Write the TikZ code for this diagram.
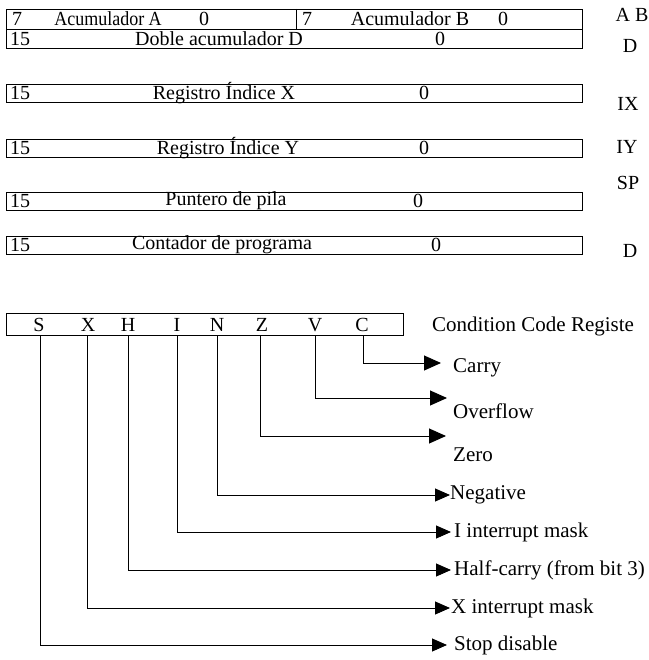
\documentclass[tikz,border=0pt]{standalone}
\usepackage{fontspec}
\setmainfont{Liberation Serif}
\usetikzlibrary{arrows.meta}

\tikzset{
  regbox/.style={draw, line width=0.9pt, inner sep=0pt},
  regtxt/.style={font=\fontsize{20}{22}\selectfont, inner sep=0pt},
  sidetxt/.style={font=\fontsize{20}{22}\selectfont, inner sep=0pt},
  flagtxt/.style={font=\fontsize{21}{23}\selectfont, inner sep=0pt, anchor=west},
  flagline/.style={line width=0.9pt, -{Triangle[length=15pt,width=13pt]}},
  flaglinebig/.style={line width=0.9pt, -{Triangle[length=17pt,width=15pt]}},
}

\begin{document}
\begin{tikzpicture}[x=1pt,y=-1pt]
\useasboundingbox (0,0) rectangle (648,660);

% ---- Accumulators A, B and D ----
\node[regbox, minimum width=576pt, minimum height=20pt] (ab) at (294,19) {};
\node[regbox, minimum width=576pt, minimum height=19pt] (dd) at (294,38.5) {};
\draw[line width=0.9pt] (296,9) coordinate (divtop) -- (296,29) coordinate (divbot);
\node[regtxt, anchor=west] (a7) at (12,19) {7};
\node[regtxt] (aname) at (108,19) {\scalebox{0.9}[1]{Acumulador A}};
\node[regtxt] (a0) at (204,19) {0};
\node[regtxt, anchor=west] (b7) at (302,19) {7};
\node[regtxt] (bname) at (410,19) {Acumulador B};
\node[regtxt] (b0) at (503,19) {0};
\node[regtxt, anchor=west] (d15) at (10,39) {15};
\node[regtxt] (dname) at (219,39) {Doble acumulador D};
\node[regtxt] (d0) at (440,39) {0};
\node[sidetxt] (labab) at (632,15) {A B};
\node[sidetxt] (labd) at (630,46) {D};

% ---- Index registers, stack pointer, program counter ----
\node[regbox, minimum width=576pt, minimum height=18pt] (ix) at (294,93) {};
\node[regtxt, anchor=west] (ix15) at (10,93) {15};
\node[regtxt] (ixname) at (224,93) {Registro Índice X};
\node[regtxt] (ix0) at (424,93) {0};
\node[sidetxt] (labix) at (628,104) {IX};

\node[regbox, minimum width=576pt, minimum height=18pt] (iy) at (294,148) {};
\node[regtxt, anchor=west] (iy15) at (10,148) {15};
\node[regtxt] (iyname) at (228,148) {Registro Índice Y};
\node[regtxt] (iy0) at (424,148) {0};
\node[sidetxt] (labiy) at (627,147) {IY};

\node[regbox, minimum width=576pt, minimum height=18pt] (sp) at (294,201) {};
\node[regtxt, anchor=west] (sp15) at (10,201) {15};
\node[regtxt] (spname) at (226,201) {Puntero de pila};
\node[regtxt] (sp0) at (418,201) {0};
\node[sidetxt] (labsp) at (628,183) {SP};

\node[regbox, minimum width=576pt, minimum height=18pt] (pc) at (294,245) {};
\node[regtxt, anchor=west] (pc15) at (10,245) {15};
\node[regtxt] (pcname) at (222,245) {Contador de programa};
\node[regtxt] (pc0) at (436,245) {0};
\node[sidetxt] (labpc) at (630,251) {D};

% ---- Condition code register ----
\node[regbox, minimum width=397pt, minimum height=22pt] (ccr) at (204.5,324) {};
\node[flagtxt] (ccrname) at (432,326) {Condition Code Registe};
\node[regtxt] (fS) at (39,325) {S};
\node[regtxt] (fX) at (88,325) {X};
\node[regtxt] (fH) at (128,325) {H};
\node[regtxt] (fI) at (177,325) {I};
\node[regtxt] (fN) at (217,325) {N};
\node[regtxt] (fZ) at (262,325) {Z};
\node[regtxt] (fV) at (315,325) {V};
\node[regtxt] (fC) at (362,325) {C};

% arrow tips and flag descriptions
\coordinate (tC) at (441,363);
\coordinate (tV) at (447,398);
\coordinate (tZ) at (446,436);
\coordinate (tN) at (450,495);
\coordinate (tI) at (451,532);
\coordinate (tH) at (451,570);
\coordinate (tX) at (450,608);
\coordinate (tS) at (447,645);

\node[flagtxt] (dC) at (453,368) {Carry};
\node[flagtxt] (dV) at (453,411) {Overflow};
\node[flagtxt] (dZ) at (453,455) {Zero};
\node[flagtxt] (dN) at (450,495) {Negative};
\node[flagtxt] (dI) at (454,532) {I interrupt mask};
\node[flagtxt] (dH) at (454,570) {Half-carry (from bit 3)};
\node[flagtxt] (dX) at (451,608) {X interrupt mask};
\node[flagtxt] (dS) at (454,645) {Stop disable};

% connectors from each flag bit
\draw[flaglinebig] ([xshift=1pt]fC |- ccr.south) |- (tC);
\draw[flaglinebig] (fV |- ccr.south) |- (tV);
\draw[flaglinebig] ([xshift=-2pt]fZ |- ccr.south) |- (tZ);
\draw[flagline] (fN |- ccr.south) |- (tN);
\draw[flagline] (fI |- ccr.south) |- (tI);
\draw[flagline] (fH |- ccr.south) |- (tH);
\draw[flagline] ([xshift=-1pt]fX |- ccr.south) |- (tX);
\draw[flagline] ([xshift=1pt]fS |- ccr.south) |- (tS);
\end{tikzpicture}
\end{document}
